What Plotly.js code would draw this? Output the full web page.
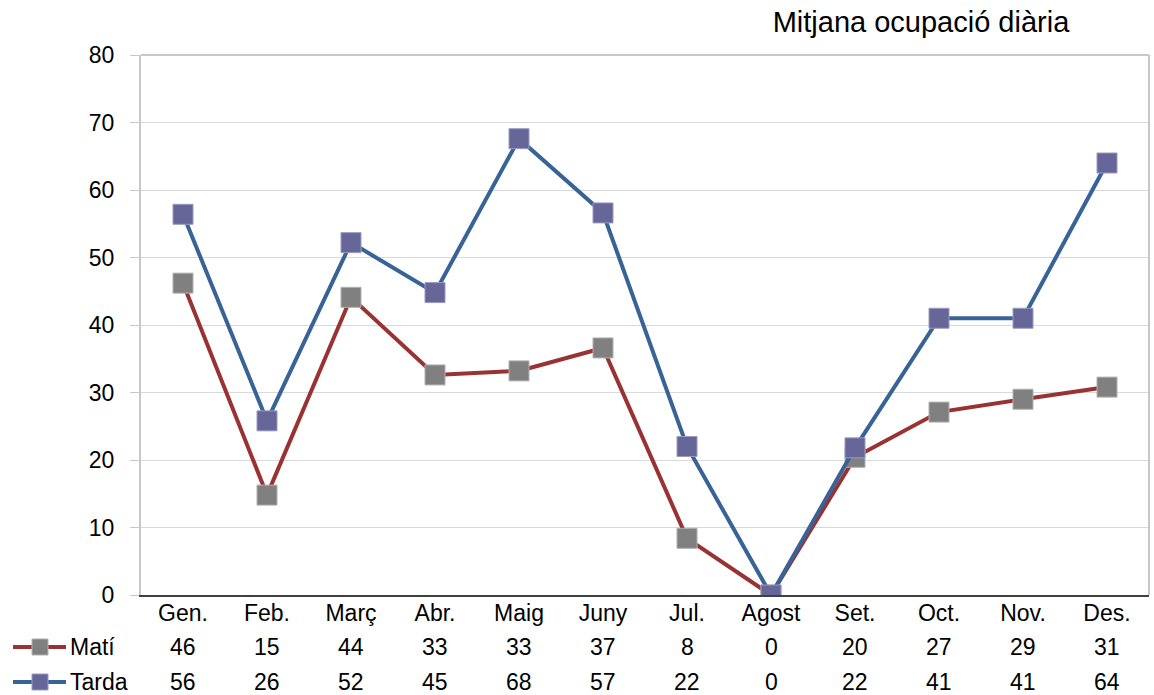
<!DOCTYPE html>
<html>
<head>
<meta charset="utf-8">
<script src="https://cdn.plot.ly/plotly-3.0.1.min.js"></script>
<style>html,body{margin:0;padding:0;background:#fff;}#chart{width:1154px;height:695px;}</style>
</head>
<body>
<div id="chart"></div>
<script>
const months = ["Gen.","Feb.","Març","Abr.","Maig","Juny","Jul.","Agost","Set.","Oct.","Nov.","Des."];
const mati = [46.2, 14.8, 44.1, 32.6, 33.2, 36.6, 8.4, 0, 20.4, 27.1, 29.0, 30.8];
const tarda = [56.4, 25.8, 52.2, 44.8, 67.6, 56.6, 22.0, 0, 21.8, 41.0, 41.0, 64.0];
const matiLabels = ["46","15","44","33","33","37","8","0","20","27","29","31"];
const tardaLabels = ["56","26","52","45","68","57","22","0","22","41","41","64"];
const seriesNames = ["Matí", "Tarda"];

const FONT = "Liberation Sans, Arial, sans-serif";
const W = 1154, H = 695, ML = 141, MR = 5, MT = 55, MB = 100;
const PW = W - ML - MR, PH = H - MT - MB;
const px = v => (v - ML) / PW;           // pixel x -> paper x
const py = v => (H - MB - v) / PH;       // pixel y -> paper y

const lineColors = ["#993333", "#386396"];
const markerColors = ["#808080", "#666699"];
const markerEdge = ["#b0b0b0", "#9a9ac0"];

const traces = [mati, tarda].map((vals, k) => ({
  x: months, y: vals, name: seriesNames[k], type: "scatter", mode: "lines+markers",
  line: {color: lineColors[k], width: 4},
  marker: {symbol: "square", size: 20, color: markerColors[k], line: {color: markerEdge[k], width: 1}},
  showlegend: false
}));

const rowY = [647, 682];
const annotations = [];
[matiLabels, tardaLabels].forEach((labels, k) => {
  months.forEach((m, i) => {
    annotations.push({x: m, y: py(rowY[k]), xref: "x", yref: "paper", text: labels[i], showarrow: false,
      font: {family: FONT, size: 23, color: "#000"}, xanchor: "center", yanchor: "middle"});
  });
  annotations.push({x: px(70), y: py(rowY[k]), xref: "paper", yref: "paper", text: seriesNames[k], showarrow: false,
    font: {family: FONT, size: 23, color: "#000"}, xanchor: "left", yanchor: "middle", xshift: -2});
});

const shapes = [
  {type: "line", xref: "paper", yref: "paper", x0: 0, x1: 1, y0: 1, y1: 1, line: {color: "#c8c8c8", width: 2}},
  {type: "line", xref: "paper", yref: "paper", x0: 1, x1: 1, y0: 0, y1: 1, line: {color: "#c8c8c8", width: 2}}
];
[0, 1].forEach(k => {
  shapes.push({type: "line", xref: "paper", yref: "paper", x0: px(13), x1: px(66), y0: py(rowY[k]), y1: py(rowY[k]),
    line: {color: lineColors[k], width: 4}});
  shapes.push({type: "rect", xref: "paper", yref: "paper", x0: px(32), x1: px(48), y0: py(rowY[k] - 8), y1: py(rowY[k] + 8),
    fillcolor: markerColors[k], line: {color: markerEdge[k], width: 1}});
});

const layout = {
  width: W, height: H,
  margin: {l: ML, r: MR, t: MT, b: MB},
  paper_bgcolor: "#fff", plot_bgcolor: "#fff",
  font: {family: FONT, size: 23, color: "#000"},
  showlegend: false,
  title: {text: "Mitjana ocupació diària", x: px(921), xanchor: "center", xref: "paper",
    y: 1 - 22 / H, yanchor: "middle", yref: "container", font: {family: FONT, size: 29, color: "#000"}},
  xaxis: {
    type: "category", range: [-0.5, 11.5], showgrid: false, zeroline: false,
    showline: true, linecolor: "#404040", linewidth: 1.5,
    ticks: "", tickfont: {family: FONT, size: 23, color: "#000"}, ticklabelstandoff: -3
  },
  yaxis: {
    range: [0, 80], dtick: 10, showgrid: true, gridcolor: "#d9d9d9", gridwidth: 1,
    zeroline: false, showline: true, linecolor: "#c8c8c8", linewidth: 2,
    ticks: "outside", ticklen: 9, tickcolor: "#c8c8c8", tickwidth: 1,
    tickfont: {family: FONT, size: 23, color: "#000"}, ticklabelstandoff: 11
  },
  shapes: shapes,
  annotations: annotations
};

Plotly.newPlot("chart", traces, layout, {displayModeBar: false, staticPlot: true});
</script>
</body>
</html>
